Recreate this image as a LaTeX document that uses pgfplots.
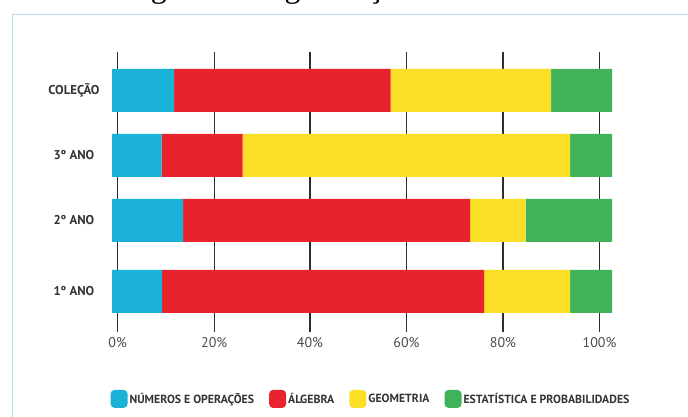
\documentclass[border=0pt]{standalone}
\usepackage{pgfplots}
\pgfplotsset{compat=1.18}
\usepackage{fontspec}
\setmainfont{PT Sans}
\newfontfamily\capfont{Liberation Serif}

\definecolor{cNum}{HTML}{1AB2D6}
\definecolor{cAlg}{HTML}{E8232D}
\definecolor{cGeo}{HTML}{FADF26}
\definecolor{cEst}{HTML}{40B35A}
\definecolor{cGrid}{HTML}{2E2E2E}
\definecolor{cLab}{HTML}{333333}
\definecolor{cTick}{HTML}{4A4A4A}
\definecolor{cFrame}{HTML}{B4DEE4}

\pgfplotsset{
  swatch/.style={legend image code/.code={
      \fill[##1, rounded corners=4pt] (0pt,-9pt) rectangle (17pt,9pt);}},
}

\begin{document}
\begin{tikzpicture}
\path[use as bounding box] (0,0) rectangle (688pt,417pt);
% caption, cut off by the top of the page
\node[anchor=base, font=\capfont\fontsize{32}{36}\selectfont] at (367pt,419.5pt)
  {Figura 4: Organização dos Conteúdos};
\draw[cFrame, line width=1.5pt] (12.5pt,-2pt) -- (12.5pt,402.5pt) -- (700pt,402.5pt);

\begin{axis}[
  at={(112pt,85pt)}, anchor=south west,
  scale only axis, width=500pt, height=280pt,
  xmin=0, xmax=100, ymin=85, ymax=365,
  xbar stacked, bar width=43pt,
  axis line style={draw=none}, major tick length=0pt,
  xtick={1.12,20.45,39.6,58.9,78.2,97.5},
  xticklabels={0\%,20\%,40\%,60\%,80\%,100\%},
  ytick={125.5,196.5,261.5,326.5},
  yticklabels={1º ANO,2º ANO,3º ANO,COLEÇÃO},
  xmajorgrids, major grid style={cGrid, line width=1.4pt},
  xticklabel style={anchor=center, yshift=-10.5pt,
    font=\fontsize{14}{16}\selectfont, text=cTick},
  yticklabel style={anchor=center, xshift=-38pt,
    font=\bfseries\fontsize{12.8}{14}\selectfont, text=cLab},
  legend columns=4,
  legend style={at={(0.518,-0.239)}, anchor=center, draw=none, fill=none,
    font=\bfseries\fontsize{11.8}{13}\selectfont, text=cLab,
    /tikz/every even column/.append style={column sep=13pt},
    nodes={inner xsep=2pt}},
  legend cell align=left,
]
\addplot[fill=cNum, draw=none, swatch] coordinates {(10.0,125.5) (14.2,196.5) (9.9,261.5) (12.4,326.5)};
\addlegendentry{NÚMEROS E OPERAÇÕES}
\addplot[fill=cAlg, draw=none, swatch] coordinates {(64.4,125.5) (57.4,196.5) (16.2,261.5) (43.3,326.5)};
\addlegendentry{ÁLGEBRA}
\addplot[fill=cGeo, draw=none, swatch] coordinates {(17.2,125.5) (11.1,196.5) (65.5,261.5) (32.1,326.5)};
\addlegendentry{GEOMETRIA}
\addplot[fill=cEst, draw=none, swatch] coordinates {(8.4,125.5) (17.3,196.5) (8.4,261.5) (12.2,326.5)};
\addlegendentry{ESTATÍSTICA E PROBABILIDADES}
\end{axis}
\end{tikzpicture}
\end{document}
